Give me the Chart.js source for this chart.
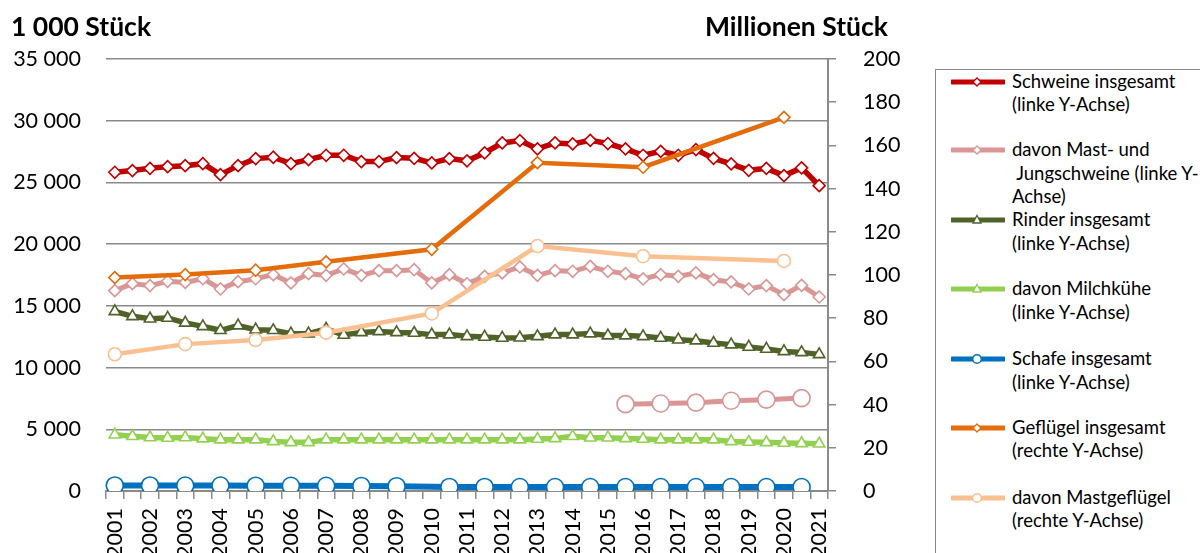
<!DOCTYPE html>
<html>
<head>
<meta charset="utf-8">
<script src="https://cdn.jsdelivr.net/npm/chart.js@4.4.1/dist/chart.umd.min.js"></script>
<style>
  html, body { margin: 0; padding: 0; background: #fff; overflow: hidden; }
  #wrap { position: relative; width: 1200px; height: 553px; overflow: hidden; font-family: Lato, "Open Sans", sans-serif; }
  #c { position: absolute; left: 0; top: 0; }
  .ttl { position: absolute; font-weight: bold; font-size: 26.5px; color: #000; white-space: nowrap; line-height: 1; }
  #legend { position: absolute; left: 935px; top: 69px; width: 300px; height: 520px; border: 1.5px solid #8a8a8a; box-sizing: border-box; }
  .item { position: absolute; left: 0; width: 290px; }
  .item svg { position: absolute; left: 15px; }
  .item .txt { position: absolute; left: 76px; font-size: 18.5px; line-height: 23.5px; color: #000; white-space: pre; }
</style>
</head>
<body>
<div id="wrap">
  <canvas id="c" width="930" height="590"></canvas>
  <div class="ttl" style="left:11px; top:13px;">1 000 Stück</div>
  <div class="ttl" style="left:705px; top:13px;">Millionen Stück</div>
  <div id="legend"></div>
</div>
<script>
// ---- data ----
const years = ['2001','2002','2003','2004','2005','2006','2007','2008','2009','2010','2011','2012','2013','2014','2015','2016','2017','2018','2019','2020','2021'];
// half-year survey points (May / November), labelled with the year at each May point
const categories = [];
years.forEach((y, i) => { categories.push(y); if (i < years.length - 1) categories.push(''); });

const schweine = [25820,25960,26140,26280,26360,26520,25630,26360,26930,27040,26520,26850,27200,27200,26690,26690,27010,26950,26580,26930,26750,27390,28200,28390,27720,28200,28120,28410,28150,27720,27200,27520,27200,27660,26950,26500,25980,26140,25550,26180,24740];
const mastSchweine = [16230,16800,16640,16990,16900,17200,16370,16960,17200,17530,16860,17610,17470,17990,17470,17850,17850,17930,16860,17530,16790,17390,17670,18150,17470,17850,17800,18200,17800,17610,17180,17530,17390,17670,17120,16940,16370,16640,15910,16660,15720];
const rinder = [14550,14150,13960,14020,13620,13340,13020,13400,13070,13020,12750,12750,13130,12640,12850,12930,12850,12800,12670,12670,12530,12480,12400,12420,12530,12670,12670,12750,12590,12590,12530,12400,12260,12180,11990,11860,11670,11510,11310,11230,11070];
const milchkuehe = [4560,4430,4340,4300,4340,4240,4160,4160,4160,4020,3940,3940,4160,4160,4160,4160,4160,4160,4160,4160,4160,4160,4160,4160,4210,4260,4430,4320,4320,4260,4210,4160,4160,4160,4160,4020,3970,3940,3890,3860,3830];
const schafe = [450,null,450,null,440,null,440,null,430,null,420,null,420,null,410,null,390,null,null,330,null,330,null,320,null,320,null,320,null,320,null,320,null,320,null,320,null,320,null,320,null];
// right axis (Millionen Stück)
const gefluegel = [98.8,null,null,null,100.2,null,null,null,102.2,null,null,null,106.1,null,null,null,null,null,111.9,null,null,null,null,null,152.0,null,null,null,null,null,149.9,null,null,null,null,null,null,null,173.0,null,null];
const mastgefluegel = [63.3,null,null,null,68.0,null,null,null,69.9,null,null,null,73.3,null,null,null,null,null,82.2,null,null,null,null,null,113.4,null,null,null,null,null,108.7,null,null,null,null,null,null,null,106.5,null,null];
const weitereGefluegel = [null,null,null,null,null,null,null,null,null,null,null,null,null,null,null,null,null,null,null,null,null,null,null,null,null,null,null,null,null,40.2,null,40.5,null,40.9,null,41.8,null,42.3,null,43.0,null];

const leftTicks = [0, 5000, 10000, 15000, 20000, 25000, 30000, 35000];
const rightTicks = [0, 20, 40, 60, 80, 100, 120, 140, 160, 180, 200];

const legendItems = [
  { text: 'Schweine insgesamt\n(linke Y-Achse)', color: '#c00000', marker: 'diamond', y: 80.7 },
  { text: 'davon Mast- und\n Jungschweine (linke Y-\nAchse)', color: '#d99694', marker: 'diamond', y: 149.3 },
  { text: 'Rinder insgesamt\n(linke Y-Achse)', color: '#4f6228', marker: 'triangle', y: 219.3 },
  { text: 'davon Milchkühe\n(linke Y-Achse)', color: '#92d050', marker: 'triangle', y: 288.3 },
  { text: 'Schafe insgesamt\n(linke Y-Achse)', color: '#0070c0', marker: 'circle', y: 358.3 },
  { text: 'Geflügel insgesamt\n(rechte Y-Achse)', color: '#e46c0a', marker: 'diamond', y: 426.7 },
  { text: 'davon Mastgeflügel\n(rechte Y-Achse)', color: '#fac090', marker: 'circle', y: 496.7 }
];

// ---- legend (HTML) ----
const lg = document.getElementById('legend');
legendItems.forEach(it => {
  const d = document.createElement('div');
  d.className = 'item';
  const top = it.y - 69;
  d.style.top = (top - 12) + 'px';
  let mk = '';
  if (it.marker === 'diamond') mk = '<polygon points="26,3 30,7 26,11 22,7" fill="#fff" stroke="' + it.color + '" stroke-width="1.3"/>';
  if (it.marker === 'circle') mk = '<circle cx="26" cy="7" r="4.3" fill="#fff" stroke="' + it.color + '" stroke-width="1.5"/>';
  if (it.marker === 'triangle') mk = '<polygon points="26,2.5 30,10 22,10" fill="#fff" stroke="' + it.color + '" stroke-width="1.3"/>';
  d.innerHTML = '<svg width="54" height="14" style="top:5px"><line x1="1" y1="7" x2="53" y2="7" stroke="' + it.color + '" stroke-width="5" stroke-linecap="round"/>' + mk + '</svg>' +
    '<div class="txt" style="top:0px">' + it.text + '</div>';
  lg.appendChild(d);
});

// ---- chart ----
const FONT = 'Lato';
function fmt(v) { return String(v).replace(/\B(?=(\d{3})+(?!\d))/g, ' '); }
function line(label, data, color, axis, style, radius, width, order) {
  return {
    label, data, yAxisID: axis,
    borderColor: color, backgroundColor: color,
    borderWidth: width, tension: 0, spanGaps: true,
    pointStyle: style, pointRadius: radius, pointHoverRadius: radius,
    pointBackgroundColor: '#ffffff', pointBorderColor: color, pointBorderWidth: 1.6,
    order
  };
}

new Chart(document.getElementById('c'), {
  type: 'line',
  data: {
    labels: categories,
    datasets: [
      line('Schweine insgesamt (linke Y-Achse)', schweine, '#c00000', 'yL', 'rectRot', 6, 5.5, 8),
      line('davon Mast- und Jungschweine (linke Y-Achse)', mastSchweine, '#d99694', 'yL', 'rectRot', 6, 5, 7),
      line('Rinder insgesamt (linke Y-Achse)', rinder, '#4f6228', 'yL', 'triangle', 6.5, 5.5, 6),
      line('davon Milchkühe (linke Y-Achse)', milchkuehe, '#92d050', 'yL', 'triangle', 6.5, 5.5, 5),
      line('Schafe insgesamt (linke Y-Achse)', schafe, '#0070c0', 'yL', 'circle', 8.5, 6, 4),
      line('Geflügel insgesamt (rechte Y-Achse)', gefluegel, '#e46c0a', 'yR', 'rectRot', 6, 4.5, 2),
      line('davon Mastgeflügel (rechte Y-Achse)', mastgefluegel, '#fac090', 'yR', 'circle', 6.5, 4.5, 1),
      line('', weitereGefluegel, '#d99694', 'yR', 'circle', 8.5, 5, 3)
    ]
  },
  options: {
    responsive: false,
    animation: false,
    events: [],
    layout: { padding: { top: 59, left: 0, right: 0, bottom: 0 } },
    plugins: { legend: { display: false }, tooltip: { enabled: false } },
    scales: {
      x: {
        type: 'category',
        offset: true,
        grid: { offset: true, drawOnChartArea: false, drawTicks: true, tickLength: 8, color: '#8a8a8a', lineWidth: 1.5 },
        border: { display: true, color: '#8a8a8a', width: 2 },
        ticks: { autoSkip: false, minRotation: 90, maxRotation: 90, padding: 9, color: '#000', font: { family: FONT, size: 21.5 } },
        afterFit: s => { s.height = 590 - 491; }
      },
      yL: {
        position: 'left', min: 0, max: 35000,
        afterBuildTicks: s => { s.ticks = leftTicks.map(v => ({ value: v })); },
        grid: { color: '#8a8a8a', lineWidth: 1.5, drawTicks: false },
        border: { display: false },
        ticks: { padding: 25, color: '#000', font: { family: FONT, size: 21.5 }, callback: v => fmt(v) },
        afterFit: s => { s.width = 106; }
      },
      yR: {
        position: 'right', min: 0, max: 200,
        afterBuildTicks: s => { s.ticks = rightTicks.map(v => ({ value: v })); },
        grid: { drawOnChartArea: false, drawTicks: true, tickLength: 8, color: '#8a8a8a', lineWidth: 1.5 },
        border: { display: true, color: '#8a8a8a', width: 2 },
        ticks: { padding: 27, color: '#000', font: { family: FONT, size: 21.5 } },
        afterFit: s => { s.width = 930 - 828; }
      }
    }
  }
});
</script>
</body>
</html>
